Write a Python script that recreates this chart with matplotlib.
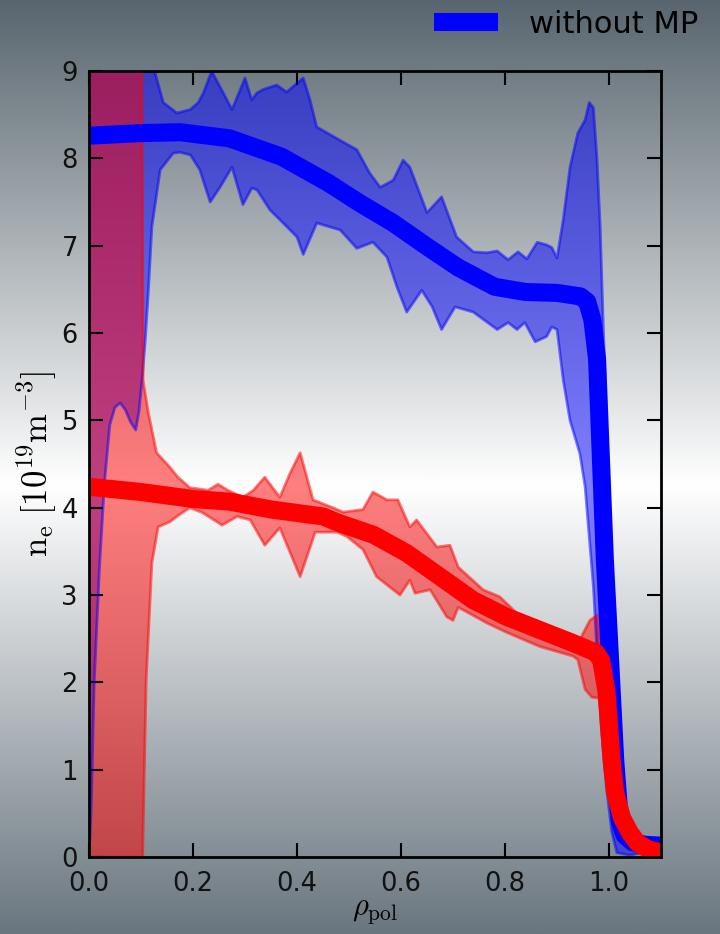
import numpy as np
import matplotlib
matplotlib.use('Agg')
import matplotlib.pyplot as plt
from matplotlib.colors import LinearSegmentedColormap
from matplotlib.lines import Line2D

# Mean profiles (rho_pol, n_e in 1e19 m^-3)
rho_blue = [0.0, 0.1, 0.175, 0.27, 0.37, 0.46, 0.52, 0.585, 0.65, 0.71, 0.78, 0.84,
            0.9, 0.945, 0.958, 0.968, 0.977, 0.992, 1.002, 1.012, 1.021, 1.03, 1.045, 1.07, 1.1]
ne_blue = [8.26, 8.29, 8.3, 8.23, 8.02, 7.72, 7.49, 7.26, 6.99, 6.75, 6.53, 6.47,
           6.46, 6.42, 6.36, 6.15, 5.7, 3.4, 2.26, 1.1, 0.4, 0.25, 0.17, 0.14, 0.13]

rho_red = [0.0, 0.1, 0.2, 0.27, 0.35, 0.4, 0.45, 0.483, 0.547, 0.611, 0.675, 0.739,
           0.803, 0.867, 0.931, 0.975, 0.985, 0.995, 1.0, 1.005, 1.012, 1.025, 1.04,
           1.055, 1.075, 1.1]
ne_red = [4.24, 4.18, 4.1, 4.07, 3.98, 3.94, 3.9, 3.82, 3.69, 3.48, 3.21, 2.94,
          2.75, 2.6, 2.45, 2.34, 2.25, 1.9, 1.5, 1.1, 0.73, 0.45, 0.28,
          0.16, 0.09, 0.05]

# Uncertainty bands, upper and lower edges
rho_blue_hi = [0.0, 0.1, 0.115, 0.127, 0.143, 0.169, 0.195, 0.21, 0.22, 0.236, 0.252,
               0.275, 0.3, 0.313, 0.323, 0.335, 0.361, 0.38, 0.4, 0.412, 0.425, 0.438,
               0.488, 0.515, 0.54, 0.56, 0.585, 0.604, 0.617, 0.65, 0.678, 0.707, 0.739,
               0.765, 0.785, 0.806, 0.825, 0.842, 0.862, 0.88, 0.89, 0.9, 0.912, 0.925,
               0.94, 0.954, 0.962, 0.97, 0.977, 0.983, 0.989, 0.995, 1.0, 1.01, 1.02,
               1.03, 1.05, 1.1]
ne_blue_hi = [12.0, 12.0, 10.5, 8.98, 8.64, 8.52, 8.56, 8.64, 8.75, 9.0, 8.82,
              8.56, 8.92, 8.67, 8.75, 8.79, 8.84, 8.76, 8.86, 8.92, 8.67, 8.36,
              8.19, 8.1, 7.83, 7.67, 7.75, 7.98, 7.9, 7.38, 7.56, 7.1, 6.93,
              6.92, 6.94, 6.84, 6.93, 6.85, 7.04, 7.01, 6.98, 6.86, 7.3, 7.9,
              8.29, 8.44, 8.64, 8.58, 7.98, 7.22, 6.07, 5.0, 4.0, 2.5, 1.0,
              0.4, 0.22, 0.16]

rho_blue_lo = [0.0, 0.004, 0.01, 0.02, 0.03, 0.04, 0.05, 0.06, 0.07, 0.08, 0.09, 0.096,
               0.102, 0.108, 0.114, 0.121, 0.137, 0.162, 0.175, 0.195, 0.213, 0.233,
               0.252, 0.275, 0.296, 0.313, 0.323, 0.348, 0.38, 0.4, 0.412, 0.438, 0.483,
               0.515, 0.546, 0.573, 0.592, 0.611, 0.64, 0.66, 0.678, 0.704, 0.739, 0.785,
               0.806, 0.823, 0.838, 0.858, 0.88, 0.89, 0.9, 0.912, 0.925, 0.944, 0.954,
               0.97, 0.977, 0.985, 0.995, 1.005, 1.015, 1.04, 1.1]
ne_blue_lo = [0.0, 0.5, 2.0, 3.3, 4.3, 4.95, 5.15, 5.2, 5.12, 4.98, 4.89, 5.1,
              5.46, 5.9, 6.46, 7.22, 7.87, 8.06, 8.07, 8.04, 7.87, 7.5,
              7.67, 7.9, 7.47, 7.66, 7.64, 7.41, 7.22, 7.1, 6.9, 7.26, 7.18,
              6.97, 7.04, 6.87, 6.53, 6.24, 6.49, 6.3, 6.04, 6.3, 6.24, 6.04,
              6.12, 6.04, 6.12, 5.9, 5.96, 6.07, 6.04, 5.46, 5.0, 4.62, 4.24,
              3.09, 2.34, 1.5, 0.8, 0.3, 0.05, 0.02, 0.1]

rho_red_hi = [0.0, 0.1, 0.104, 0.114, 0.13, 0.156, 0.171, 0.194, 0.229, 0.248, 0.267,
              0.296, 0.316, 0.338, 0.367, 0.387, 0.406, 0.431, 0.469, 0.489, 0.527,
              0.546, 0.573, 0.594, 0.617, 0.63, 0.669, 0.694, 0.71, 0.758, 0.79, 0.823,
              0.867, 0.919, 0.944, 0.963, 0.977, 0.981, 0.99, 1.0, 1.012, 1.025, 1.04,
              1.055, 1.075, 1.1]
ne_red_hi = [12.0, 12.0, 5.46, 5.09, 4.63, 4.46, 4.35, 4.23, 4.2, 4.27, 4.2,
             4.12, 4.2, 4.35, 4.12, 4.4, 4.63, 4.09, 4.0, 3.95, 3.98,
             4.18, 4.09, 4.09, 3.78, 3.86, 3.55, 3.57, 3.32, 3.06, 2.98, 2.79,
             2.62, 2.52, 2.49, 2.71, 2.77, 2.4, 2.1, 1.55, 0.78, 0.5, 0.31,
             0.19, 0.11, 0.07]

rho_red_lo = [0.0, 0.103, 0.11, 0.121, 0.133, 0.156, 0.169, 0.194, 0.219, 0.256, 0.285,
              0.31, 0.338, 0.367, 0.406, 0.435, 0.477, 0.496, 0.527, 0.553, 0.598, 0.617,
              0.627, 0.656, 0.688, 0.7, 0.71, 0.765, 0.804, 0.867, 0.931, 0.94, 0.954,
              0.967, 0.98, 0.99, 1.0, 1.012, 1.025, 1.04, 1.055, 1.075, 1.1]
ne_red_lo = [0.0, 0.0, 2.03, 3.37, 3.78, 3.84, 3.9, 4.0, 3.94, 3.8, 3.9,
             3.86, 3.57, 3.77, 3.21, 3.72, 3.72, 3.67, 3.52, 3.21, 3.0, 3.17,
             3.02, 3.06, 2.75, 2.71, 2.86, 2.68, 2.57, 2.41, 2.3, 2.26, 1.92,
             1.83, 1.82, 1.6, 1.4, 0.68, 0.4, 0.25, 0.14, 0.07, 0.03]

x_ticks = [0.0, 0.2, 0.4, 0.6, 0.8, 1.0]
y_ticks = list(range(10))

plt.rcParams['mathtext.fontset'] = 'cm'

fig = plt.figure(figsize=(7.2, 9.34), dpi=100)

# slide-like vertical gradient behind everything
bg = fig.add_axes([0, 0, 1, 1], zorder=-1)
grad = LinearSegmentedColormap.from_list(
    'bg', [(0.0, '#59666f'), (0.52, '#ffffff'), (1.0, '#6a767f')])
bg.imshow(np.linspace(0, 1, 512).reshape(-1, 1), aspect='auto', cmap=grad,
          extent=[0, 1, 0, 1])
bg.axis('off')

ax = fig.add_axes([0.1236, 0.0824, 0.7945, 0.8415])
ax.set_facecolor('none')


def band(ax, x_hi, y_hi, x_lo, y_lo, color):
    xs = np.r_[x_hi, x_lo[::-1]]
    ys = np.r_[y_hi, y_lo[::-1]]
    ax.fill(xs, ys, color=color, alpha=0.5, lw=0)
    ax.plot(x_hi, y_hi, color=color, alpha=0.5, lw=2)
    ax.plot(x_lo, y_lo, color=color, alpha=0.5, lw=2)


band(ax, rho_blue_hi, ne_blue_hi, rho_blue_lo, ne_blue_lo, 'blue')
band(ax, rho_red_hi, ne_red_hi, rho_red_lo, ne_red_lo, 'red')
ax.plot(rho_blue, ne_blue, color='blue', lw=13, solid_joinstyle='round')
ax.plot(rho_red, ne_red, color='red', lw=13, solid_joinstyle='round')

ax.set_xlim(0, 1.1)
ax.set_ylim(0, 9)
ax.set_xticks(x_ticks)
ax.set_yticks(y_ticks)
ax.tick_params(direction='in', length=10, width=1.5, labelsize=18.5,
               top=True, right=True, pad=8, labelcolor='#111111')
ax.tick_params(axis='x', pad=10)
for sp in ax.spines.values():
    sp.set_linewidth(2)

ax.set_xlabel(r'$\rho_{\mathrm{pol}}$', fontsize=22, labelpad=0)
ax.set_ylabel(r'$\mathrm{n_e\;[10^{19}m^{-3}]}$', fontsize=25, labelpad=2)

fig.legend(handles=[Line2D([], [], color='blue', lw=13, solid_capstyle='butt')],
           labels=['without MP'], loc='upper right',
           bbox_to_anchor=(0.978, 0.996), frameon=False, fontsize=22,
           handlelength=2.1, handletextpad=1.0, borderpad=0.2, borderaxespad=0)

fig.savefig('out.png', dpi=100)
